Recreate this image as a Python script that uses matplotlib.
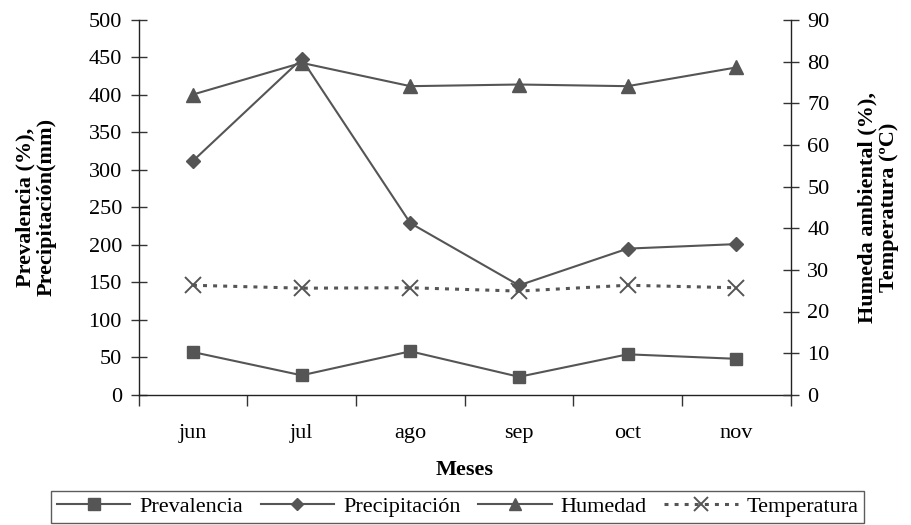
#!/usr/bin/env python3

import matplotlib
matplotlib.use("Agg")
import matplotlib.pyplot as plt

plt.rcParams["font.family"] = ["Liberation Serif", "DejaVu Serif"]

meses = ["jun", "jul", "ago", "sep", "oct", "nov"]
prevalencia = [57, 26, 58, 24, 54, 48]
precipitacion = [312, 448, 229, 146, 195, 201]
humedad = [72.1, 79.7, 74.1, 74.5, 74.1, 78.6]
temperatura = [26.3, 25.6, 25.7, 24.9, 26.3, 25.7]

GRAY = "#555555"
FS = 16


def main():
    fig = plt.figure(figsize=(9.12, 5.25), dpi=100)
    ax = fig.add_axes([0.152, 0.248, 0.715, 0.714])
    ax2 = ax.twinx()

    x = list(range(len(meses)))

    l1, = ax.plot(x, prevalencia, color=GRAY, marker="s", markersize=9, lw=1.5)
    l2, = ax.plot(x, precipitacion, color=GRAY, marker="D", markersize=7, lw=1.5)
    l3, = ax2.plot(x, humedad, color=GRAY, marker="^", markersize=10, lw=1.5)
    l4, = ax2.plot(x, temperatura, color=GRAY, marker="x", markersize=11,
                   markeredgewidth=1.4, lw=2.2, linestyle=(0, (1.3, 2.0)))

    ax.set_xlim(-0.5, len(meses) - 0.5)
    ax.set_ylim(0, 500)
    ax2.set_ylim(0, 90)
    ax.set_yticks(range(0, 501, 50))
    ax2.set_yticks(range(0, 91, 10))

    # category ticks sit on the boundaries, labels in the middle
    ax.set_xticks([i - 0.5 for i in range(len(meses) + 1)])
    ax.set_xticklabels([])
    ax.set_xticks(x, minor=True)
    ax.set_xticklabels(meses, minor=True, fontsize=FS)
    ax.tick_params(axis="x", which="major", direction="out", length=8,
                   width=1, color="#333333")
    ax.tick_params(axis="x", which="minor", length=0, pad=21)

    ax.tick_params(axis="y", direction="inout", length=12, width=1,
                   labelsize=FS, pad=6, color="#333333")
    ax2.tick_params(axis="y", direction="inout", length=12, width=1,
                    labelsize=FS, pad=6, color="#333333")

    for a in (ax, ax2):
        a.spines["top"].set_visible(False)
        for s in ("left", "right", "bottom"):
            a.spines[s].set_color("#222222")
            a.spines[s].set_linewidth(1)
    ax.spines["right"].set_visible(False)
    ax2.spines["left"].set_visible(False)
    ax2.spines["bottom"].set_visible(False)

    ax.set_xlabel("Meses", fontsize=FS, fontweight="bold")
    ax.xaxis.set_label_coords(0.5, -0.175)
    ax.set_ylabel("Prevalencia (%),\nPrecipitación(mm)", fontsize=FS,
                  fontweight="bold", linespacing=1.05)
    ax.yaxis.set_label_coords(-0.126, 0.5)
    ax2.set_ylabel("Humeda ambiental (%),\nTemperatura (ºC)", fontsize=FS,
                   fontweight="bold", linespacing=1.05)
    ax2.yaxis.set_label_coords(1.103, 0.5)

    leg = fig.legend([l1, l2, l3, l4],
                     ["Prevalencia", "Precipitación", "Humedad", "Temperatura"],
                     loc="lower center", bbox_to_anchor=(0.502, 0.0),
                     ncol=4, frameon=True, fancybox=False, fontsize=FS,
                     handlelength=3.3, handletextpad=0.4, columnspacing=0.8,
                     borderpad=0.25, borderaxespad=0.1, markerscale=0.9)
    leg.get_frame().set_edgecolor("#333333")
    leg.get_frame().set_linewidth(1)

    fig.savefig("out.png", dpi=100)


if __name__ == "__main__":
    main()
